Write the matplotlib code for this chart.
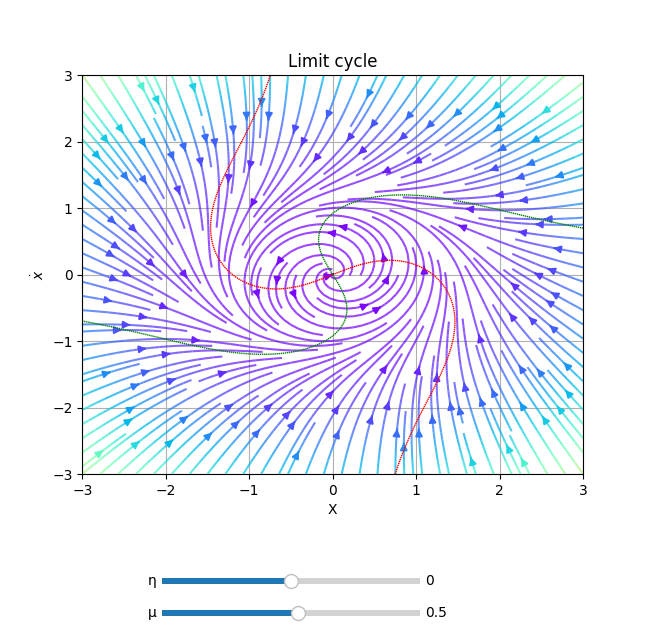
import numpy as np
import matplotlib
matplotlib.use("Agg")
import matplotlib.pyplot as plt
from matplotlib.widgets import Slider

eta_value = 0.0
mu_value = 0.5
coef_x3 = 0.347
coef_xy2 = 0.48
coef_y3 = 0.59
coef_yx2 = 0.5
x_range = [-3, 3]
y_range = [-3, 3]
ticks = [-3, -2, -1, 0, 1, 2, 3]

fig = plt.figure(figsize=(6.48, 6.32), dpi=100)
ax = fig.add_axes([0.127, 0.25, 0.773, 0.631])

x = np.linspace(x_range[0], x_range[1], 400)
y = np.linspace(y_range[0], y_range[1], 400)
X, Y = np.meshgrid(x, y)
U = mu_value * X - Y - coef_x3 * X**3 - coef_xy2 * X * Y**2 + eta_value
V = X + mu_value * Y - coef_y3 * Y**3 - coef_yx2 * Y * X**2
speed = np.sqrt(U**2 + V**2)

ax.streamplot(X, Y, U, V, color=speed, cmap='rainbow', density=1.9,
              linewidth=1.5, arrowsize=1.0, norm=plt.Normalize(0, speed.max() * 1.6))
for c in ax.collections:
    c.set_alpha(0.75)
ax.contour(X, Y, U, levels=[0], colors='red', linewidths=1.0, linestyles=[(0, (1, 0.5))])
ax.contour(X, Y, V, levels=[0], colors='green', linewidths=1.0, linestyles=[(0, (1, 0.5))])
ax.set_xlim(*x_range)
ax.set_ylim(*y_range)
ax.set_xticks(ticks)
ax.set_yticks(ticks)
ax.grid(True)
ax.set_title("Limit cycle")
ax.set_xlabel("X")
ax.set_ylabel(r"$\dot{x}$")

ax_eta = fig.add_axes([0.25, 0.072, 0.398, 0.018])
ax_mu = fig.add_axes([0.25, 0.021, 0.398, 0.018])
s_eta = Slider(ax_eta, "η", -1.0, 1.0, valinit=eta_value)
s_mu = Slider(ax_mu, "μ", -1.0, 1.85, valinit=mu_value)
s_eta.valtext.set_text("0")
s_mu.valtext.set_text("0.5")

fig.savefig("out.png", dpi=100)
